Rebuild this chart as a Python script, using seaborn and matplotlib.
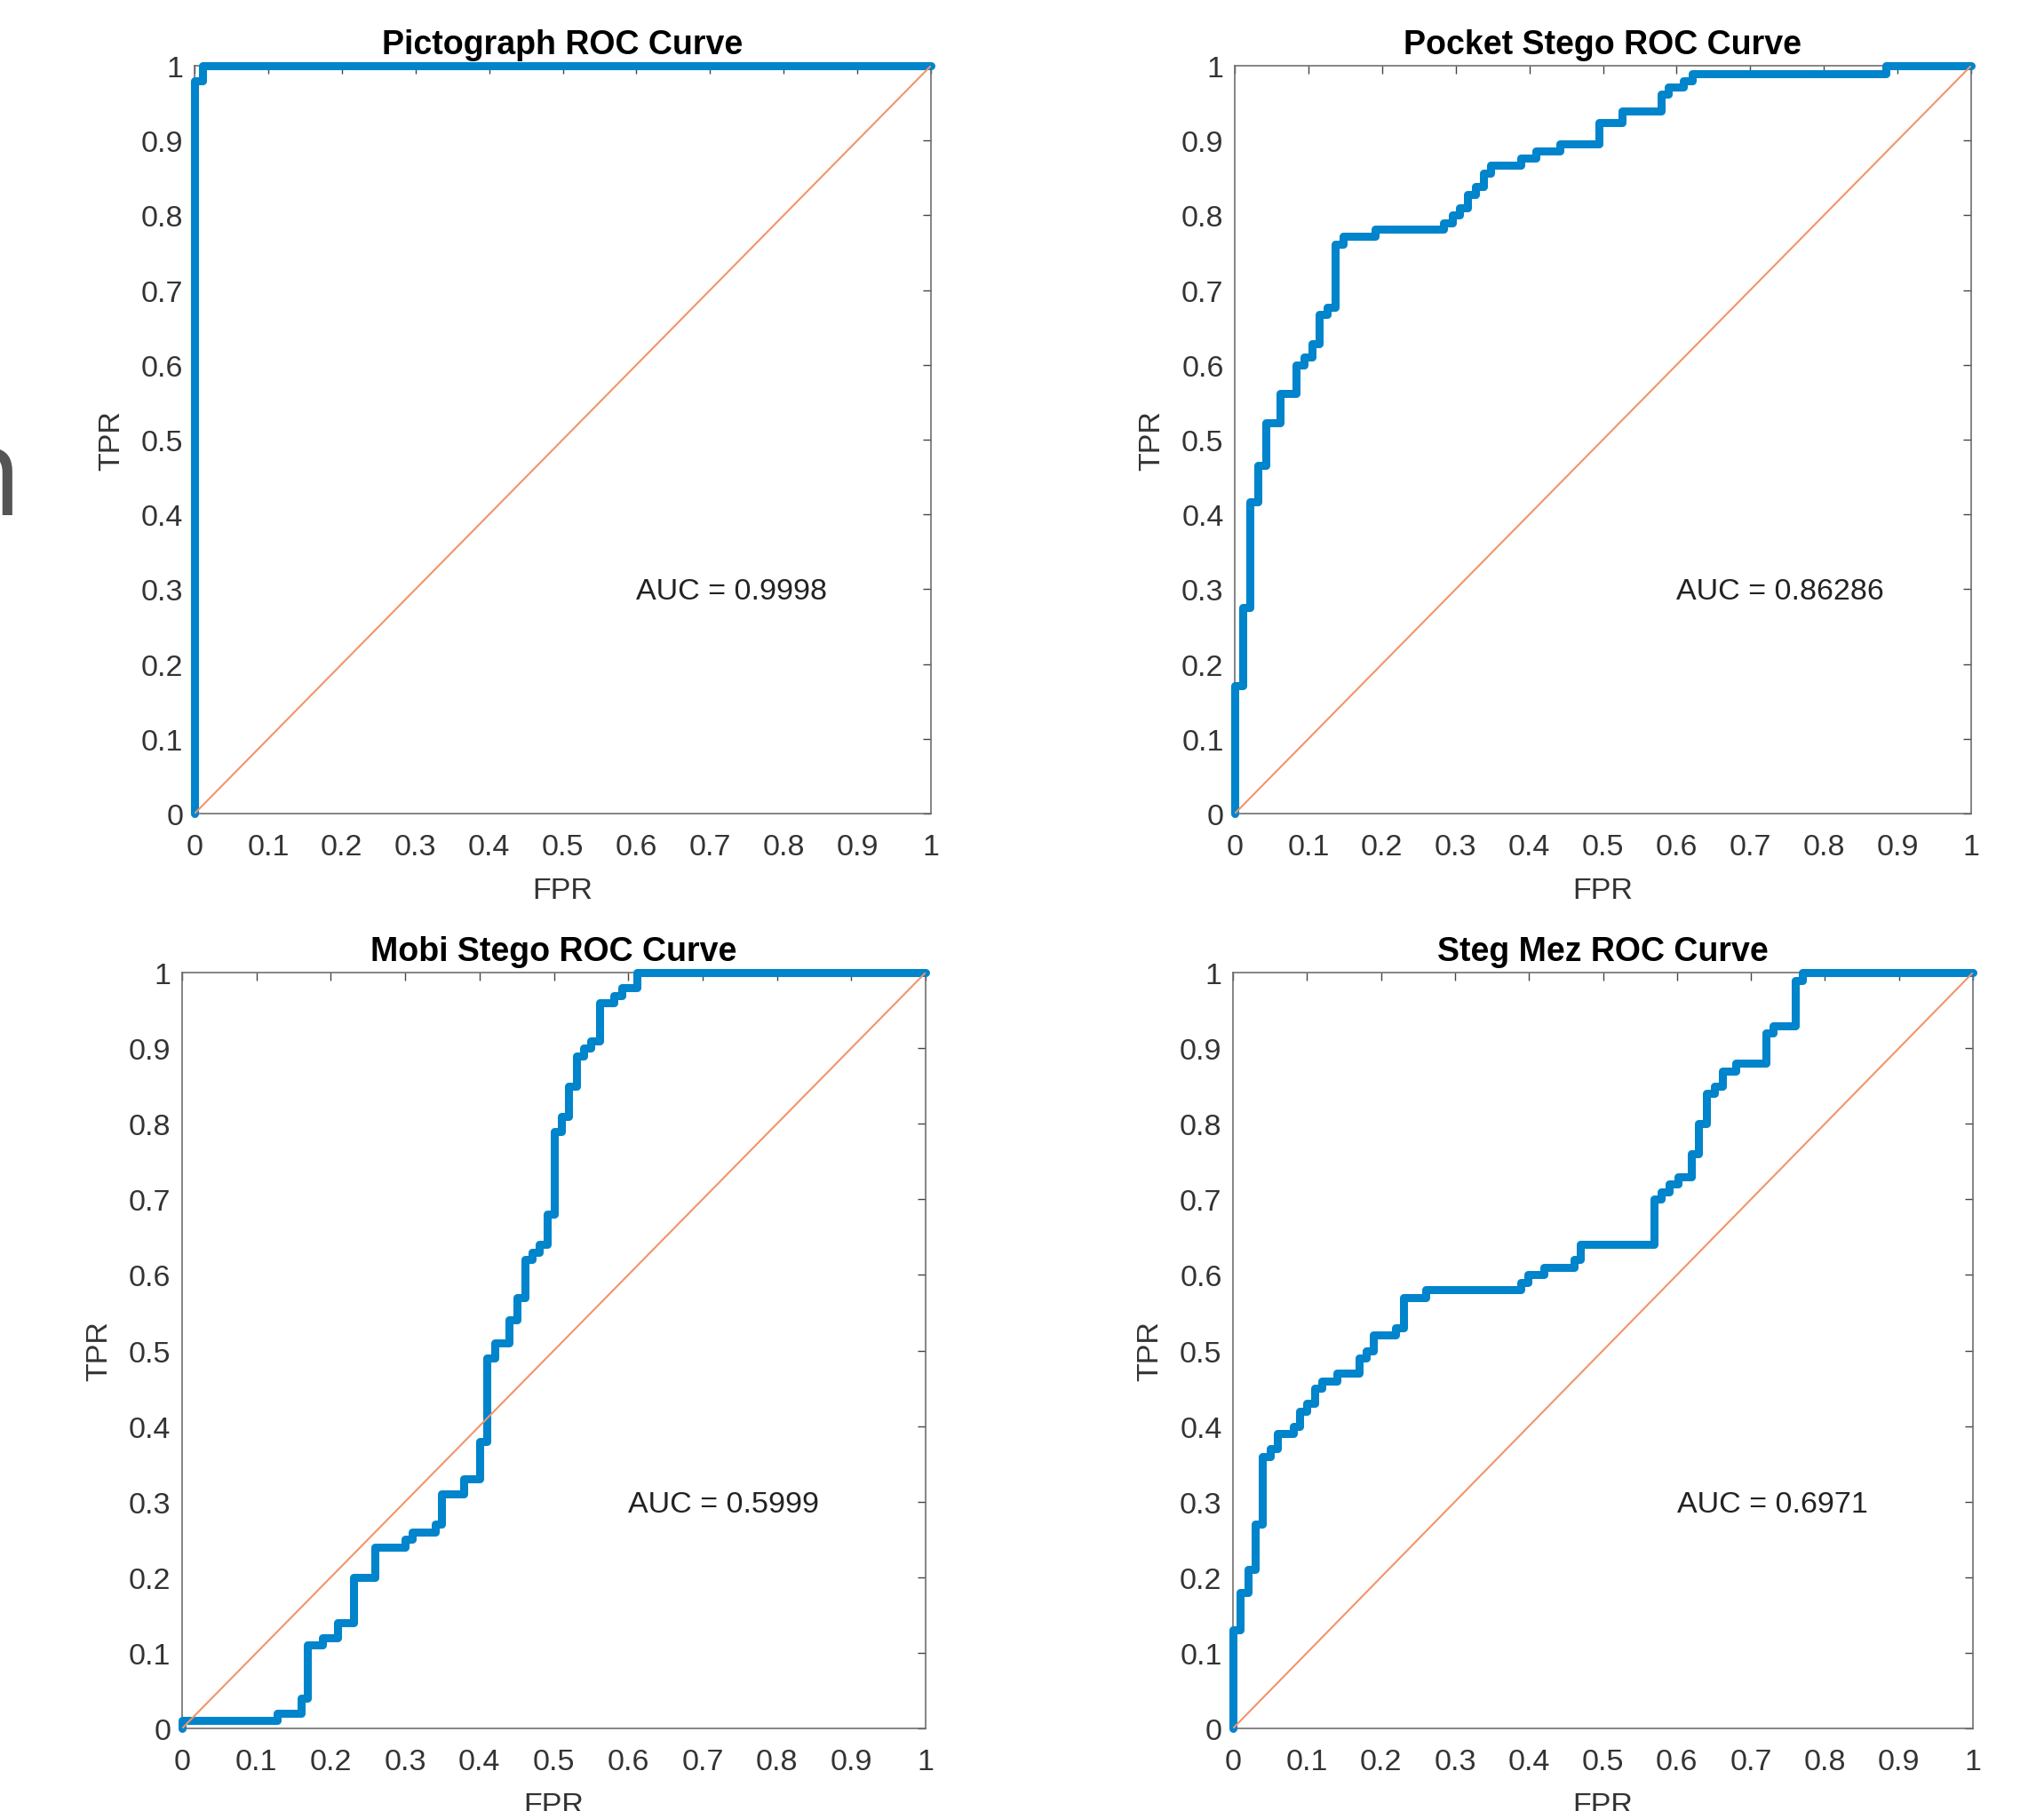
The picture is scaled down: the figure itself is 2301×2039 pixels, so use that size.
import numpy as np
import pandas as pd
import matplotlib
matplotlib.use("Agg")
import matplotlib.pyplot as plt
import seaborn as sns

# ---------------- data ----------------
titles = ["Pictograph ROC Curve", "Pocket Stego ROC Curve",
          "Mobi Stego ROC Curve", "Steg Mez ROC Curve"]
auc_labels = ["AUC = 0.9998", "AUC = 0.86286", "AUC = 0.5999", "AUC = 0.6971"]

pict_fpr = [0, 0, 0.011, 1.0]
pict_tpr = [0, 0.98, 1.0, 1.0]

pocket_fpr = [0, 0, 0.011, 0.021, 0.031, 0.042, 0.062, 0.083, 0.094, 0.105,
              0.115, 0.126, 0.136, 0.147, 0.190, 0.284, 0.295, 0.305, 0.316, 0.327,
              0.338, 0.348, 0.389, 0.409, 0.442, 0.494, 0.526, 0.579, 0.589, 0.609,
              0.621, 0.884, 1.0]
pocket_tpr = [0, 0.171, 0.276, 0.417, 0.466, 0.523, 0.562, 0.600, 0.610, 0.628,
              0.667, 0.677, 0.761, 0.772, 0.781, 0.790, 0.800, 0.810, 0.828, 0.839,
              0.856, 0.867, 0.876, 0.886, 0.896, 0.924, 0.940, 0.962, 0.972, 0.980,
              0.989, 1.0, 1.0]

mobi_fpr = [0, 0, 0.128, 0.160, 0.169, 0.189, 0.209, 0.230, 0.259, 0.300,
            0.310, 0.341, 0.349, 0.379, 0.400, 0.410, 0.421, 0.440, 0.450, 0.461,
            0.471, 0.480, 0.491, 0.500, 0.510, 0.520, 0.531, 0.540, 0.550, 0.561,
            0.581, 0.591, 0.612, 1.0]
mobi_tpr = [0, 0.01, 0.02, 0.04, 0.11, 0.12, 0.14, 0.20, 0.24, 0.25,
            0.26, 0.27, 0.31, 0.33, 0.38, 0.49, 0.51, 0.54, 0.57, 0.62,
            0.63, 0.64, 0.68, 0.79, 0.81, 0.85, 0.89, 0.90, 0.91, 0.96,
            0.97, 0.98, 1.0, 1.0]

steg_fpr = [0, 0, 0.010, 0.020, 0.030, 0.040, 0.050, 0.060, 0.082, 0.090,
            0.100, 0.110, 0.120, 0.140, 0.170, 0.180, 0.190, 0.220, 0.230, 0.260,
            0.389, 0.398, 0.420, 0.461, 0.469, 0.569, 0.579, 0.589, 0.601, 0.619,
            0.629, 0.640, 0.651, 0.661, 0.680, 0.720, 0.730, 0.760, 0.770, 1.0]
steg_tpr = [0, 0.13, 0.18, 0.21, 0.27, 0.36, 0.37, 0.39, 0.40, 0.42,
            0.43, 0.45, 0.46, 0.47, 0.49, 0.50, 0.52, 0.53, 0.57, 0.58,
            0.59, 0.60, 0.61, 0.62, 0.64, 0.70, 0.71, 0.72, 0.73, 0.76,
            0.80, 0.84, 0.85, 0.87, 0.88, 0.92, 0.93, 0.99, 1.0, 1.0]

diag = [0, 1]
tick_vals = [0, 0.1, 0.2, 0.3, 0.4, 0.5, 0.6, 0.7, 0.8, 0.9, 1]
tick_labels = ["0", "0.1", "0.2", "0.3", "0.4", "0.5", "0.6", "0.7", "0.8", "0.9", "1"]

curves = [(pict_fpr, pict_tpr), (pocket_fpr, pocket_tpr),
          (mobi_fpr, mobi_tpr), (steg_fpr, steg_tpr)]

# ---------------- style ----------------
sns.set_theme(style="white")
plt.rcParams['font.family'] = ['Liberation Sans', 'DejaVu Sans']

W, H = 2301, 2040
fig = plt.figure(figsize=(W / 100, H / 100), dpi=100)
fig.patch.set_facecolor("white")

# axes rectangles in pixels (left, right, top, bottom)
rects_px = [(219, 1048, 75, 917), (1390, 2219, 75, 917),
            (205, 1042, 1096, 1947), (1388, 2221, 1096, 1947)]

BLUE = "#0084CB"
ORANGE = "#F2946A"
SPINE = "#6f6f6f"
TXT = "#333333"

for i, ((fpr, tpr), (l, r, t, b)) in enumerate(zip(curves, rects_px)):
    ax = fig.add_axes([l / W, 1 - b / H, (r - l) / W, (b - t) / H])
    df = pd.DataFrame({"FPR": fpr, "TPR": tpr})
    sns.lineplot(data=df, x="FPR", y="TPR", ax=ax, estimator=None, sort=False,
                 drawstyle="steps-post", color=BLUE, linewidth=6.5,
                 clip_on=False, zorder=3)
    sns.lineplot(x=diag, y=diag, ax=ax, estimator=None, sort=False,
                 color=ORANGE, linewidth=1.5, zorder=4)
    ax.set_xlim(0, 1)
    ax.set_ylim(0, 1)
    ax.set_xticks(tick_vals)
    ax.set_xticklabels(tick_labels)
    ax.set_yticks(tick_vals)
    ax.set_yticklabels(tick_labels)
    ax.tick_params(direction="in", top=True, right=True, length=6.5, width=1.0,
                   color="#444444", labelsize=24.5, labelcolor=TXT)
    ax.tick_params(axis="x", pad=16)
    ax.tick_params(axis="y", pad=9)
    for sp in ax.spines.values():
        sp.set_visible(True)
        sp.set_color(SPINE)
        sp.set_linewidth(1.2)
    ax.set_xlabel("FPR", fontsize=24.5, color=TXT, va="center")
    ax.set_ylabel("TPR", fontsize=24.5, color=TXT, va="center")
    ax.xaxis.set_label_coords(0.5, -87 / (b - t))
    ax.yaxis.set_label_coords(-93 / (r - l), 0.5)
    ax.set_title(titles[i], fontsize=27, fontweight="bold", color="black", pad=10)
    ax.text(0.6, 0.297, auc_labels[i], transform=ax.transAxes, fontsize=24.5,
            color="#222222", ha="left", va="center")

# stray clipped glyph at the left edge
fig.text(24 / W, 1 - 580 / H, "n", fontsize=100, color="#555555",
         family=["Open Sans", "DejaVu Sans"], ha="right", va="baseline")

fig.savefig("out.png", dpi=100, facecolor="white")
